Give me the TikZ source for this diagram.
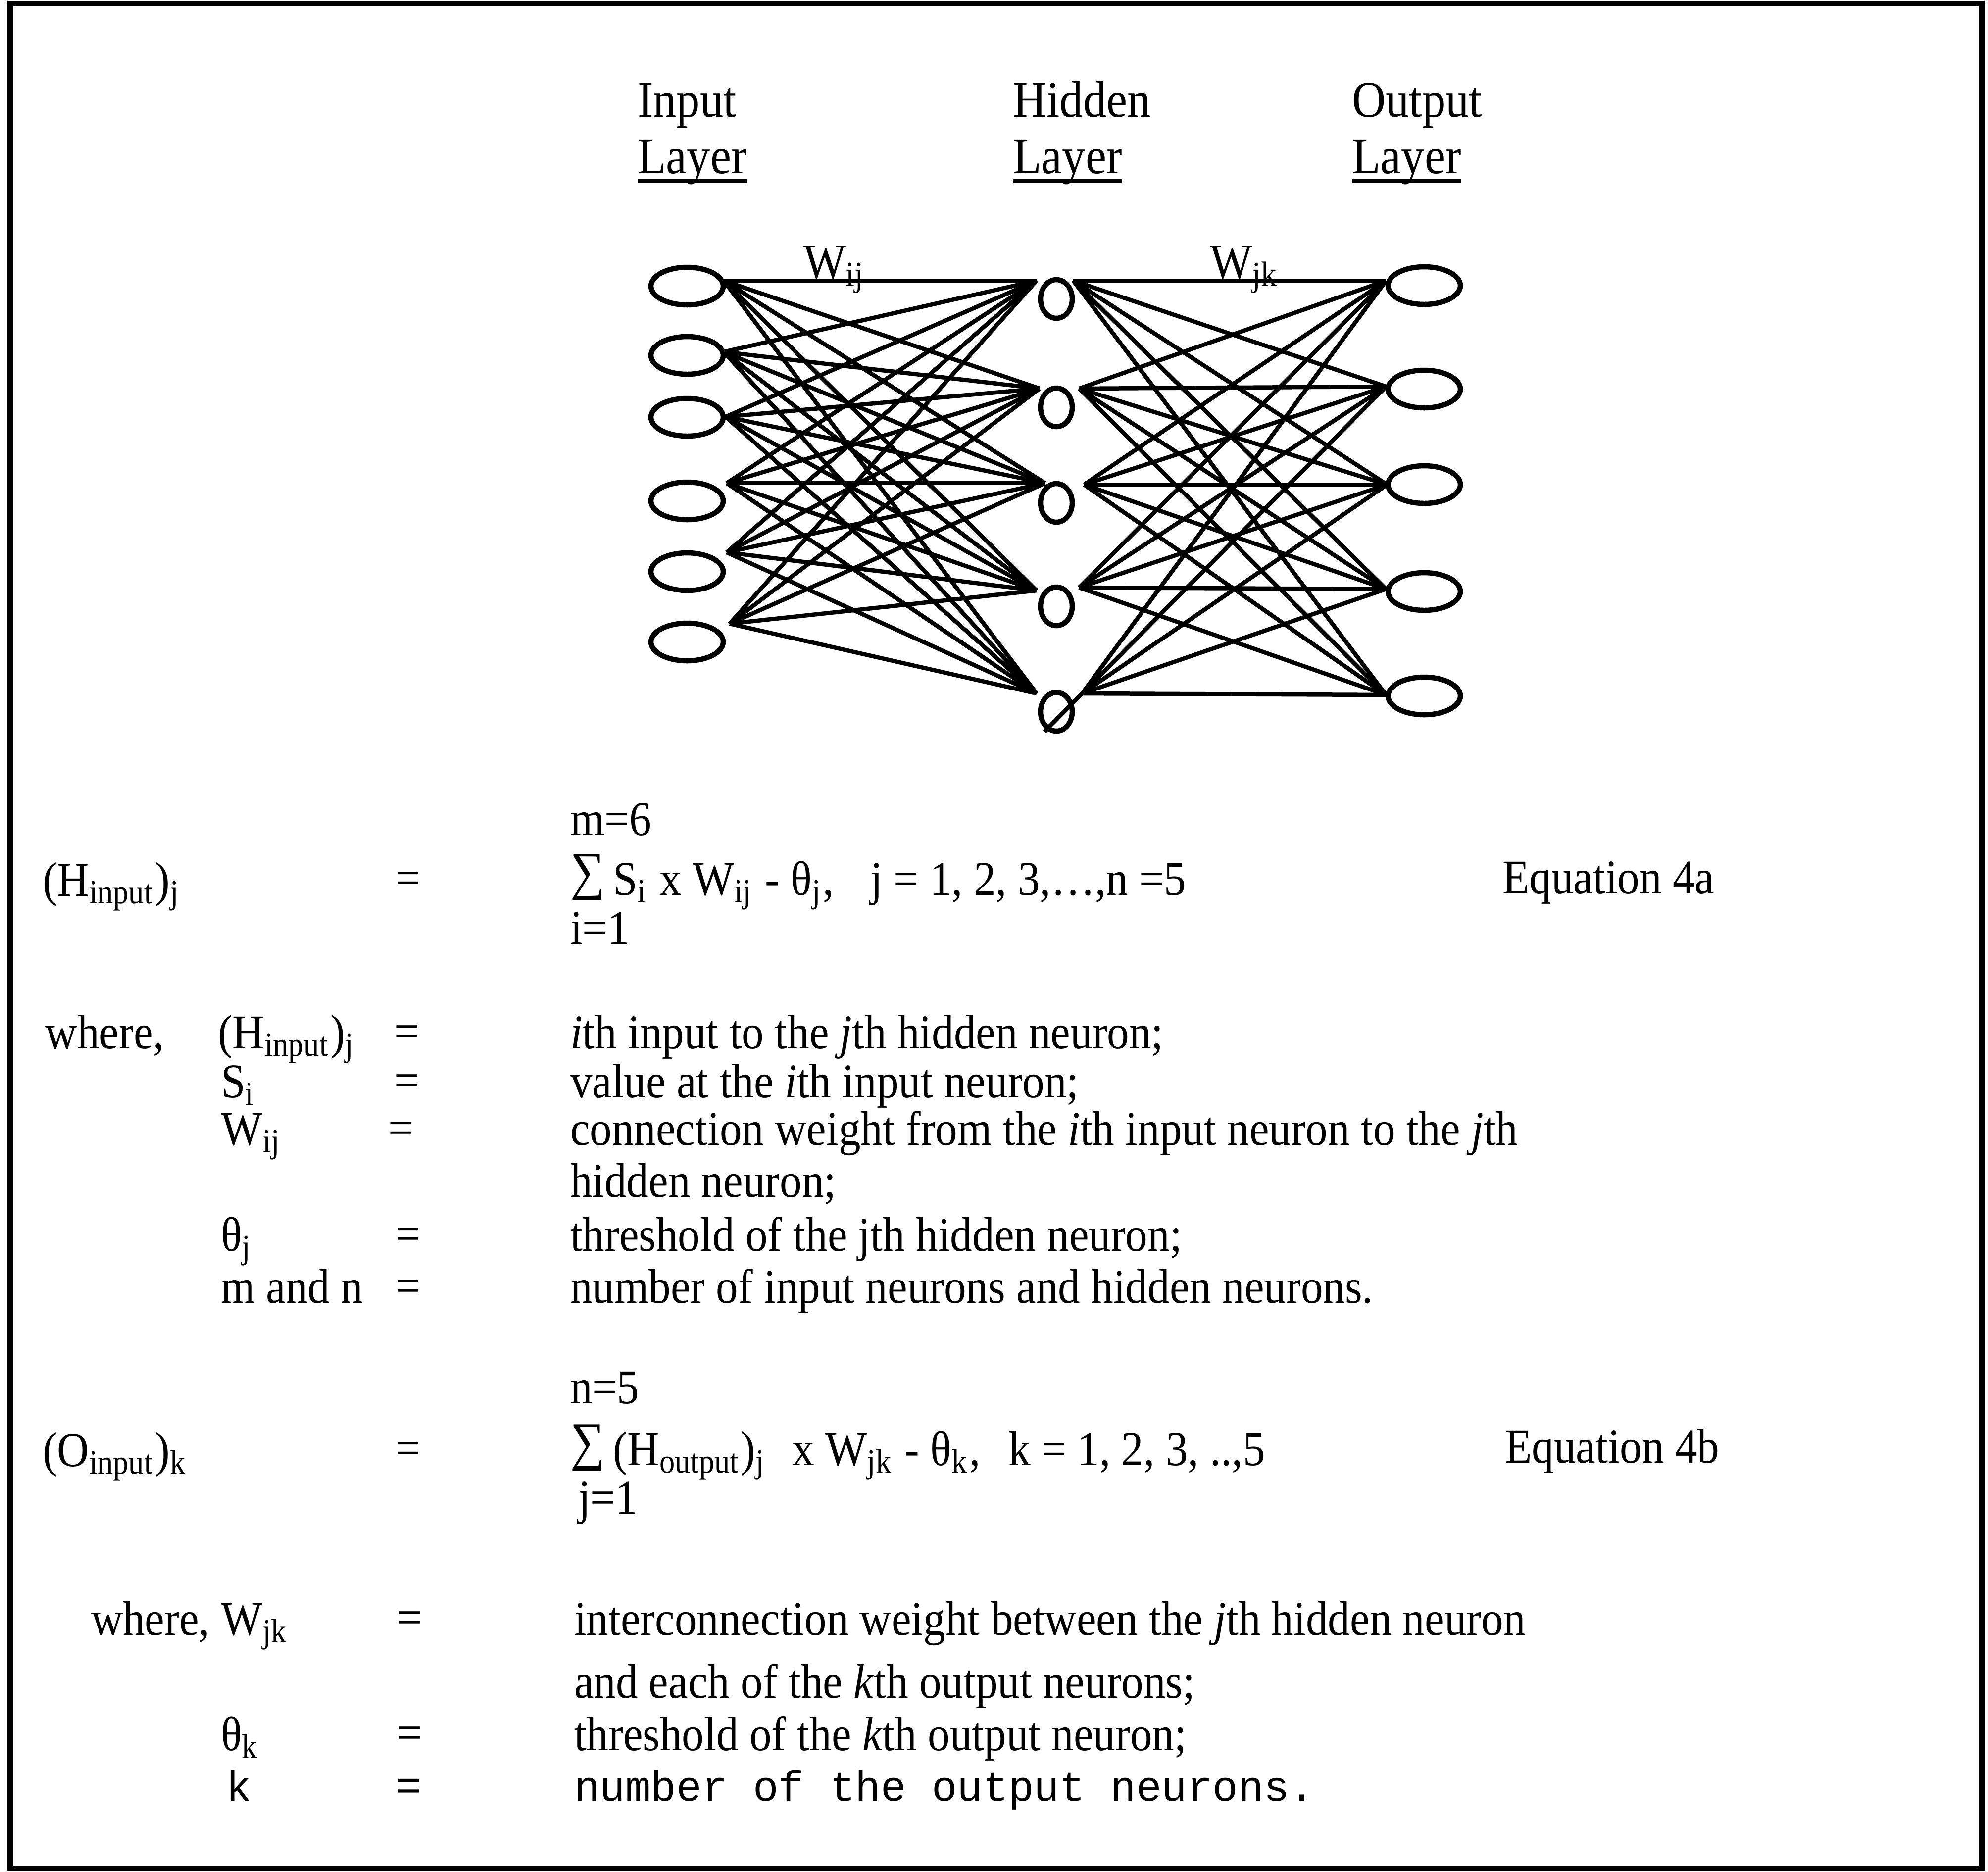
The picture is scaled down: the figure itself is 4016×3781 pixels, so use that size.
\documentclass[tikz,border=0pt]{standalone}
\usepackage{fontspec}
\setmainfont{Liberation Serif}[FakeStretch=0.91]
\setmonofont{Liberation Mono}
\usetikzlibrary{shapes.geometric}
\newcommand{\bigsum}{\raisebox{0.12em}{\scalebox{1.1}{∑}}}
\begin{document}
\begin{tikzpicture}[x=0.1pt,y=-0.1pt,
  txt/.style={anchor=base west,inner sep=0pt,outer sep=0pt,font=\fontsize{9.8}{11}\selectfont},
  head/.style={anchor=base west,inner sep=0pt,outer sep=0pt,font=\fontsize{10.4}{12}\selectfont},
  wlab/.style={anchor=base west,inner sep=0pt,outer sep=0pt,font=\fontsize{10}{11}\selectfont},
  mono/.style={anchor=base west,inner sep=0pt,outer sep=0pt,font=\fontsize{8.6}{10}\selectfont\ttfamily},
  conn/.style={line width=0.85pt},
  inode/.style={draw,ellipse,line width=1.05pt,minimum width=14.6pt,minimum height=7.6pt,inner sep=0pt},
  hnode/.style={draw,ellipse,line width=1.05pt,minimum width=6.4pt,minimum height=7.8pt,inner sep=0pt},
  frame/.style={line width=1.1pt}
]
\useasboundingbox (0,0) rectangle (4016,3781);
\draw[frame] (20,8) rectangle (4003,3774);

% headers
\node[head] (hin) at (1288,236) {Input};
\node[head] (lin) at (1288,350) {Layer};
\node[head] (hhid) at (2046,236) {Hidden};
\node[head] (lhid) at (2046,350) {Layer};
\node[head] (hout) at (2731,236) {Output};
\node[head] (lout) at (2731,350) {Layer};
\foreach \n in {lin,lhid,lout}
  \draw[line width=0.75pt] ([yshift=-1.5pt]\n.base west) -- ([yshift=-1.5pt]\n.base east);

% neurons
\node[inode] (i1) at (1388,578) {};
\node[inode] (i2) at (1388,718) {};
\node[inode] (i3) at (1388,843) {};
\node[inode] (i4) at (1388,1012) {};
\node[inode] (i5) at (1388,1155) {};
\node[inode] (i6) at (1388,1297) {};
\node[hnode] (h1) at (2134,604) {};
\node[hnode] (h2) at (2134,823) {};
\node[hnode] (h3) at (2134,1016) {};
\node[hnode] (h4) at (2134,1225) {};
\node[hnode] (h5) at (2134,1438) {};
\node[inode] (o1) at (2877,577) {};
\node[inode] (o2) at (2877,786) {};
\node[inode] (o3) at (2877,979) {};
\node[inode] (o4) at (2877,1195) {};
\node[inode] (o5) at (2877,1406) {};

% connection ports
\coordinate (a1) at (1462,567);
\coordinate (a2) at (1462,711);
\coordinate (a3) at (1466,842);
\coordinate (a4) at (1468,976);
\coordinate (a5) at (1468,1116);
\coordinate (a6) at (1474,1260);
\coordinate (hl1) at (2094,567);
\coordinate (hl2) at (2100,785);
\coordinate (hl3) at (2111,976);
\coordinate (hl4) at (2094,1193);
\coordinate (hl5) at (2094,1401);
\coordinate (hr1) at (2168,567);
\coordinate (hr2) at (2180,785);
\coordinate (hr3) at (2190,979);
\coordinate (hr4) at (2180,1187);
\coordinate (hr5) at (2186,1401);
\coordinate (ol1) at (2800,567);
\coordinate (ol2) at (2800,781);
\coordinate (ol3) at (2802,979);
\coordinate (ol4) at (2800,1190);
\coordinate (ol5) at (2800,1404);
\coordinate (tail) at (2110,1478);

\foreach \a in {1,...,6}
  \foreach \b in {1,...,5}
    \draw[conn] (a\a) -- (hl\b);
\foreach \b in {1,...,5}
  \foreach \c in {1,...,5}
    \draw[conn] (hr\b) -- (ol\c);
\draw[conn] (hr5) -- (tail);

\node[wlab] (wij) at (1623,562) {W\textsubscript{ij}};
\node[wlab] (wjk) at (2444,562) {W\textsubscript{jk}};

% Equation 4a
\node[txt] (m6) at (1152,1687) {m=6};
\node[txt] (hin1) at (86,1810) {(H\textsubscript{input})\textsubscript{j}};
\node[txt] (eq1) at (799,1806) {=};
\node[txt] (sum1) at (1152,1808) {\bigsum\,S\textsubscript{i} x W\textsubscript{ij} - θ\textsubscript{j},\hspace{0.75em}j = 1, 2, 3,…,n =5};
\node[txt] (i1l) at (1152,1907) {i=1};
\node[txt] (e4a) at (3035,1805) {Equation 4a};

% where block 1
\node[txt] (wh1) at (92,2118) {where,};
\node[txt] (d1l) at (440,2118) {(H\textsubscript{input})\textsubscript{j}};
\node[txt] (d1e) at (796,2116) {=};
\node[txt] (d1r) at (1152,2118) {\textit{i}th input to the \textit{j}th hidden neuron;};
\node[txt] (d2l) at (446,2217) {S\textsubscript{i}};
\node[txt] (d2e) at (796,2215) {=};
\node[txt] (d2r) at (1152,2217) {value at the \textit{i}th input neuron;};
\node[txt] (d3l) at (446,2313) {W\textsubscript{ij}};
\node[txt] (d3e) at (784,2311) {=};
\node[txt] (d3r) at (1152,2313) {connection weight from the \textit{i}th input neuron to the \textit{j}th};
\node[txt] (d3r2) at (1152,2418) {hidden neuron;};
\node[txt] (d4l) at (446,2527) {θ\textsubscript{j}};
\node[txt] (d4e) at (799,2525) {=};
\node[txt] (d4r) at (1152,2527) {threshold of the jth hidden neuron;};
\node[txt] (d5l) at (446,2632) {m and n};
\node[txt] (d5e) at (799,2630) {=};
\node[txt] (d5r) at (1152,2632) {number of input neurons and hidden neurons.};

% Equation 4b
\node[txt] (n5) at (1152,2835) {n=5};
\node[txt] (oin) at (86,2962) {(O\textsubscript{input})\textsubscript{k}};
\node[txt] (eq2) at (799,2958) {=};
\node[txt] (sum2) at (1152,2960) {\bigsum\,(H\textsubscript{output})\textsubscript{j}\hspace{0.3em} x W\textsubscript{jk} - θ\textsubscript{k},\hspace{0.35em} k = 1, 2, 3, ..,5};
\node[txt] (j1l) at (1168,3058) {j=1};
\node[txt] (e4b) at (3040,2955) {Equation 4b};

% where block 2
\node[txt] (wh2) at (184,3303) {where, W\textsubscript{jk}};
\node[txt] (f1e) at (802,3300) {=};
\node[txt] (f1r) at (1160,3303) {interconnection weight between the \textit{j}th hidden neuron};
\node[txt] (f1r2) at (1160,3430) {and each of the \textit{k}th output neurons;};
\node[txt] (f2l) at (446,3536) {θ\textsubscript{k}};
\node[txt] (f2e) at (802,3533) {=};
\node[txt] (f2r) at (1160,3536) {threshold of the \textit{k}th output neuron;};
\node[mono] (f3l) at (456,3638) {k};
\node[mono] (f3e) at (800,3636) {=};
\node[mono] (f3r) at (1160,3638) {number of the output neurons.};
\end{tikzpicture}
\end{document}
